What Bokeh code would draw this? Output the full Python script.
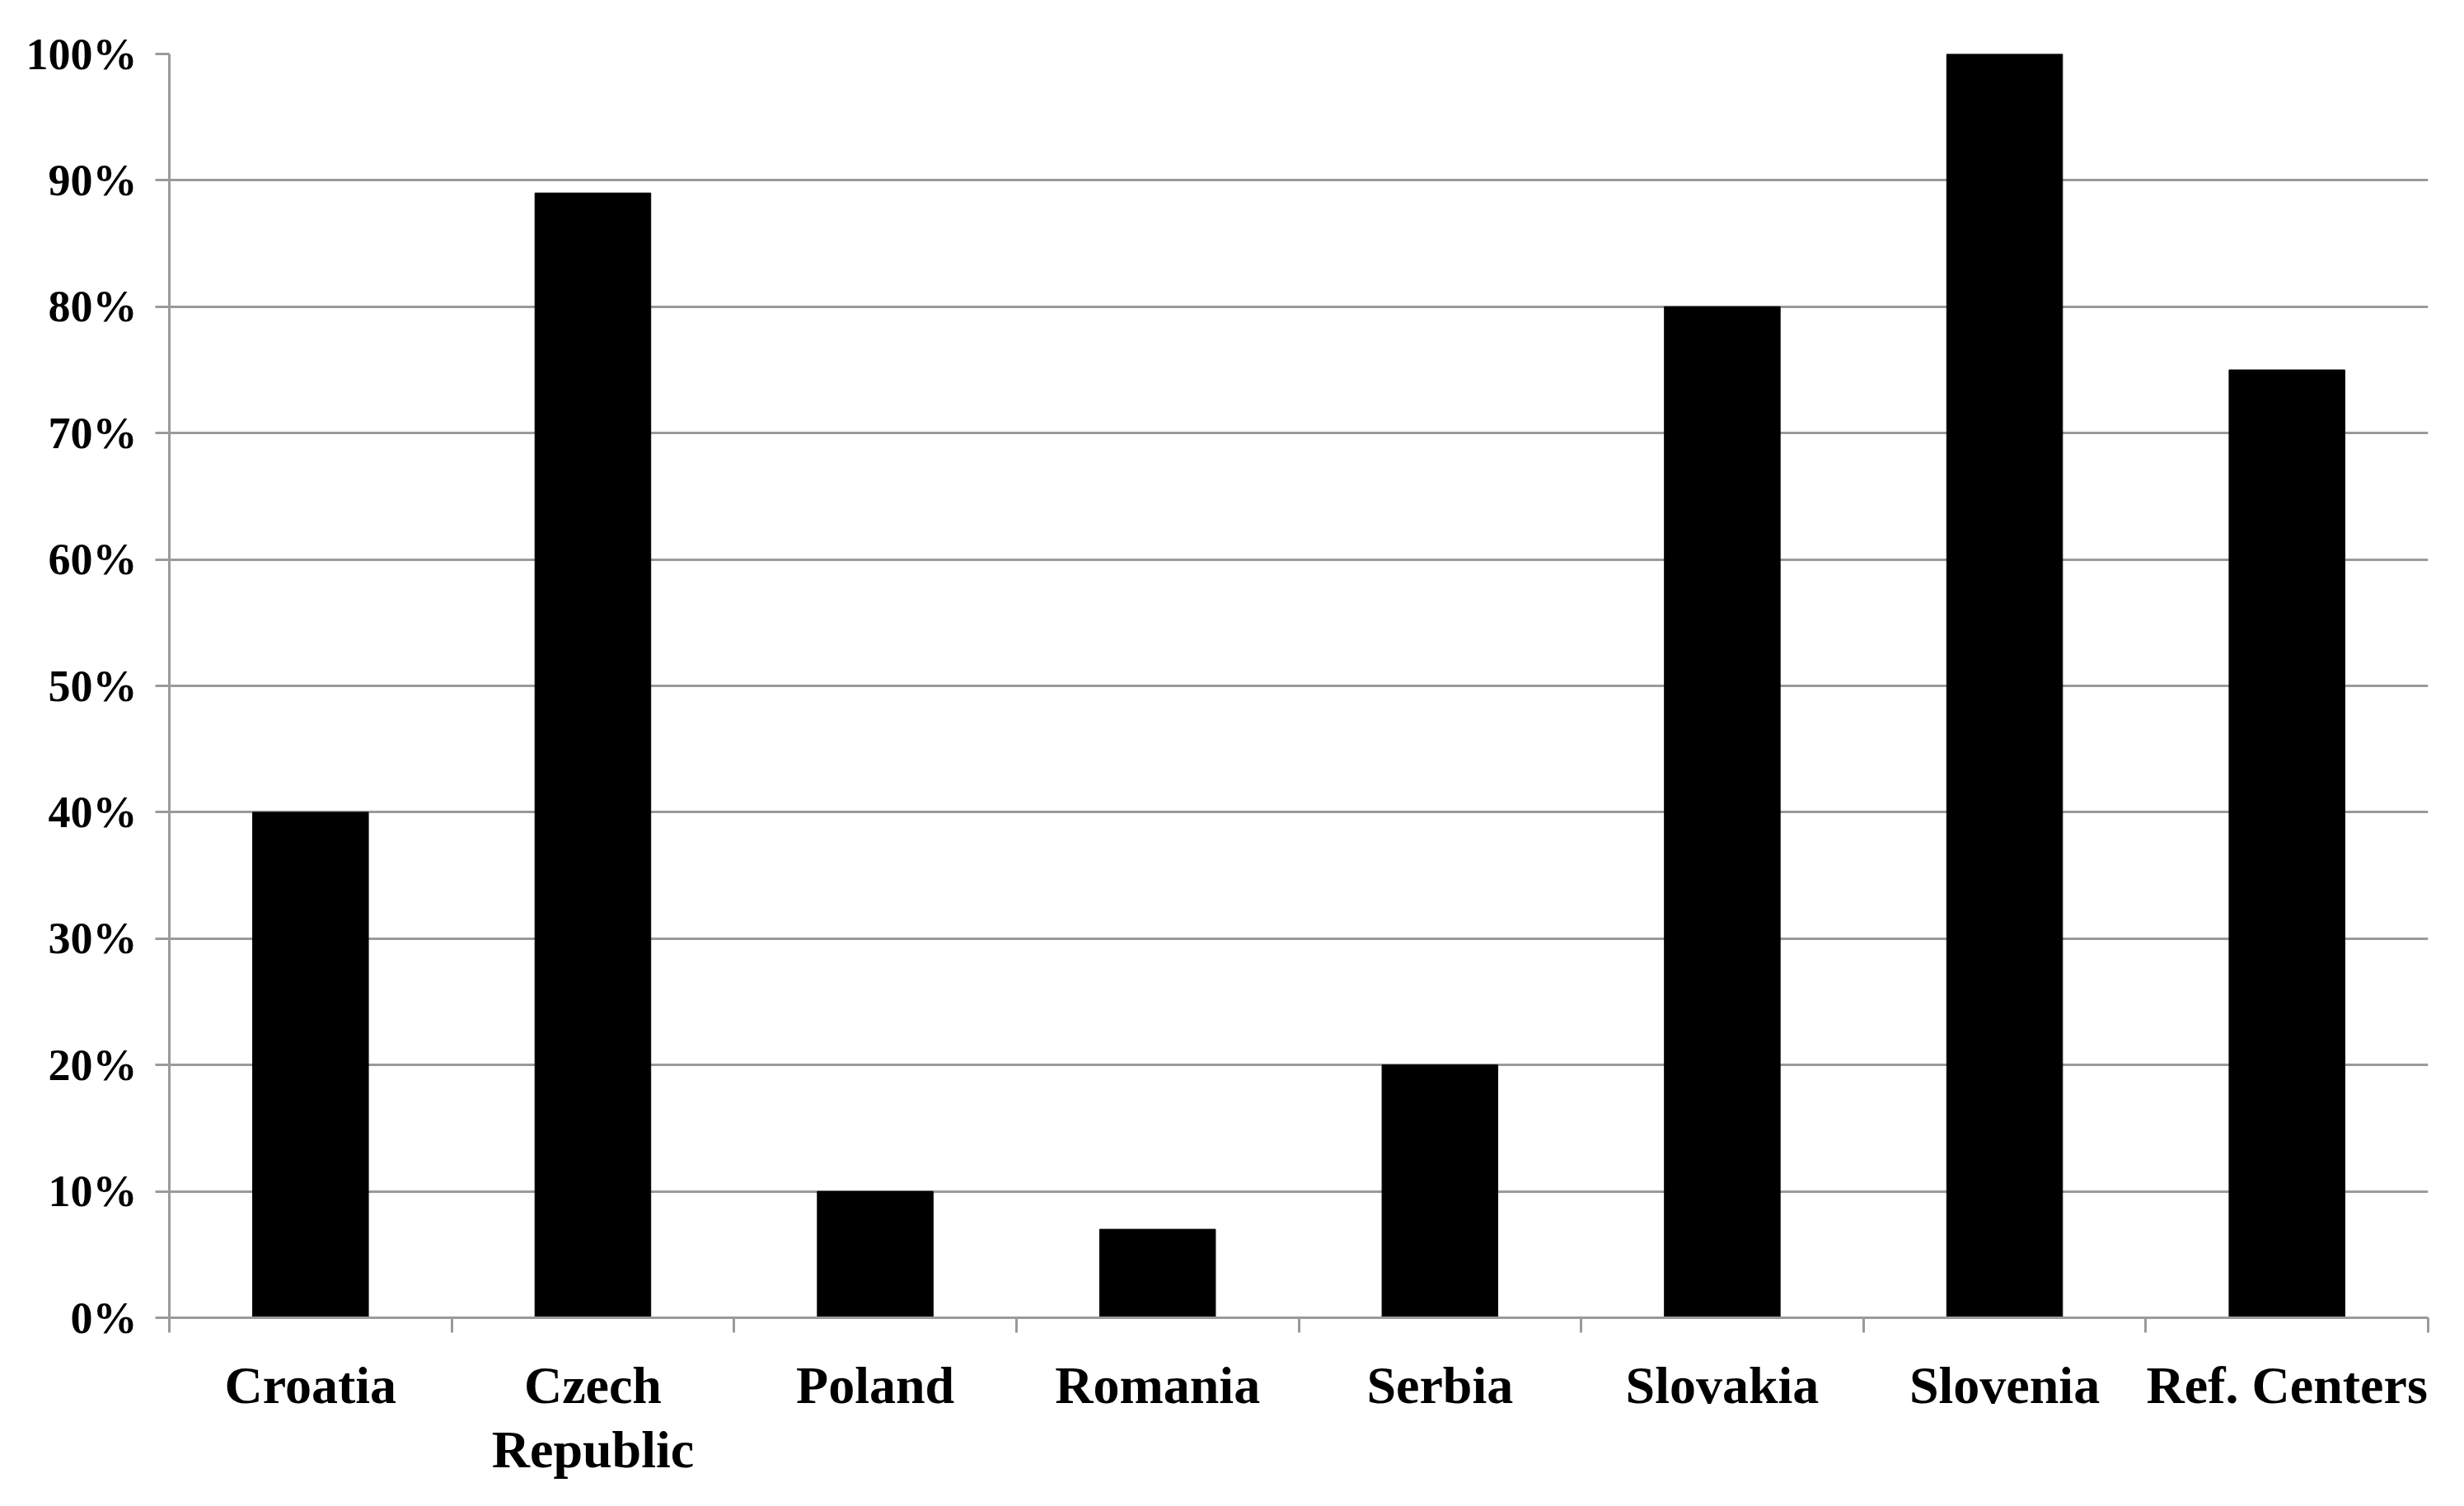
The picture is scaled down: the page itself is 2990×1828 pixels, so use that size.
from bokeh.plotting import figure
from bokeh.models import FixedTicker, NumeralTickFormatter, Range1d, ColumnDataSource
from bokeh.embed import file_html
from bokeh.resources import INLINE

categories = ["Croatia", "Czech\nRepublic", "Poland", "Romania", "Serbia", "Slovakia", "Slovenia", "Ref. Centers"]
values = [0.40, 0.89, 0.10, 0.07, 0.20, 0.80, 1.00, 0.75]
y_ticks = [0.0, 0.1, 0.2, 0.3, 0.4, 0.5, 0.6, 0.7, 0.8, 0.9, 1.0]

centers = [i + 0.5 for i in range(len(categories))]
source = ColumnDataSource(dict(x=centers, top=values))

p = figure(width=2974, height=1812, output_backend="svg", toolbar_location=None,
           x_range=Range1d(0, len(categories)), y_range=Range1d(0, 1),
           min_border_left=205, min_border_right=28, min_border_top=65, min_border_bottom=213)
p.outline_line_color = None
p.background_fill_color = "white"

p.vbar(x="x", top="top", width=0.41, source=source, fill_color="black", line_color="black", line_width=1)

GRID = "#9a9a9a"
p.xgrid.visible = False
p.ygrid.ticker = FixedTicker(ticks=y_ticks)
p.ygrid.grid_line_color = GRID
p.ygrid.grid_line_width = 3

xa = p.xaxis[0]
xa.ticker = FixedTicker(ticks=centers, minor_ticks=list(range(len(categories) + 1)))
xa.major_label_overrides = {c: lab for c, lab in zip(centers, categories)}
xa.major_tick_out = 0
xa.major_tick_in = 0
xa.minor_tick_out = 18
xa.minor_tick_in = 0
xa.minor_tick_line_color = GRID
xa.minor_tick_line_width = 3
xa.axis_line_color = GRID
xa.axis_line_width = 3
xa.major_label_text_font = "Liberation Serif"
xa.major_label_text_font_style = "bold"
xa.major_label_text_font_size = "64px"
xa.major_label_text_line_height = 1.1
xa.major_label_text_color = "black"
xa.major_label_standoff = 28

ya = p.yaxis[0]
ya.ticker = FixedTicker(ticks=y_ticks)
ya.formatter = NumeralTickFormatter(format="0%")
ya.major_tick_out = 17
ya.major_tick_in = 0
ya.minor_tick_line_color = None
ya.major_tick_line_color = GRID
ya.major_tick_line_width = 3
ya.axis_line_color = GRID
ya.axis_line_width = 3
ya.major_label_text_font = "Liberation Serif"
ya.major_label_text_font_style = "bold"
ya.major_label_text_font_size = "54px"
ya.major_label_text_color = "black"
ya.major_label_standoff = 22

open("out.html", "w").write(file_html(p, INLINE))
